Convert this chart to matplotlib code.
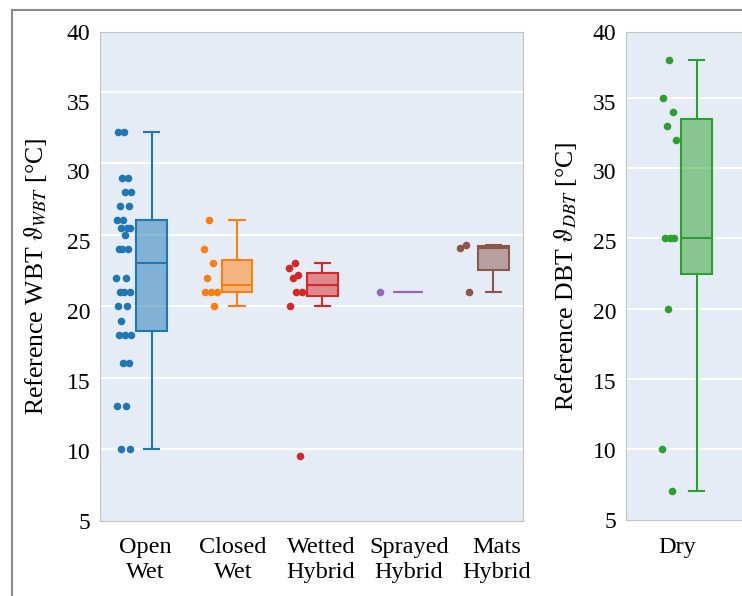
import numpy as np
import matplotlib.pyplot as plt
from matplotlib.colors import to_rgba
from matplotlib.patches import Rectangle

# === DATA ===
wet_names = ['Open\nWet', 'Closed\nWet', 'Wetted\nHybrid', 'Sprayed\nHybrid', 'Mats\nHybrid']
open_wet = [32.2, 32.2, 29, 29, 28, 28, 27, 27, 26, 26, 25.5, 25.5, 25.5, 25, 24, 24, 24,
            22, 22, 21, 21, 21, 20, 20, 19, 18, 18, 18, 16, 16, 13, 13, 10, 10]
closed_wet = [26, 24, 23, 22, 21, 21, 21, 20]
wetted_hybrid = [23.0, 22.7, 22.2, 22.0, 21.0, 21.0, 20.0, 9.5]
sprayed_hybrid = [21.0]
mats_hybrid = [24.3, 24.1, 21.0]

dry_names = ['Dry']
dry = [37.7, 35.0, 34.0, 33.0, 32.0, 25, 25, 25, 20, 10, 7]

tick_labels = ['5', '10', '15', '20', '25', '30', '35', '40']
grid_vals = [10, 15, 20, 25, 30, 35]

wet_colors = ['#1f77b4', '#ff7f0e', '#d62728', '#9467bd', '#8c564b']
dry_color = '#2ca02c'

# === STYLE ===
plt.rcParams['font.family'] = ['Liberation Serif', 'DejaVu Serif']
plt.rcParams['mathtext.fontset'] = 'stix'
bg = '#E5ECF6'
spine_c = '#c4c4c4'


def draw_group(ax, pos, values, color):
    # box to the right, jittered points to the left (plotly-like)
    lw = 1.5
    ax.boxplot([values], positions=[pos + 0.1], widths=0.36, patch_artist=True,
               showfliers=False, manage_ticks=False,
               boxprops=dict(facecolor=to_rgba(color, 0.5), edgecolor=color, linewidth=lw),
               medianprops=dict(color=color, linewidth=lw),
               whiskerprops=dict(color=color, linewidth=lw),
               capprops=dict(color=color, linewidth=lw))
    k = np.arange(len(values))
    off = ((k * 0.618034 + 0.5) % 1 - 0.5) * 0.18
    ax.scatter(pos - 0.224 + off, values, s=30, color=color, linewidths=0, zorder=3)


def style_axis(ax, ylo, yhi):
    ax.set_facecolor(bg)
    ax.set_ylim(ylo, yhi)
    # labels are spread evenly over the axis, gridlines follow the data scale
    ax.set_yticks(np.linspace(ylo, yhi, len(tick_labels)), tick_labels, fontsize=17)
    ax.set_yticks(grid_vals, minor=True)
    ax.grid(which='minor', axis='y', color='white', linewidth=1.4)
    ax.grid(which='major', visible=False)
    ax.tick_params(which='both', length=0)
    ax.tick_params(axis='y', pad=7)
    ax.tick_params(axis='x', pad=12, labelsize=17.5)
    for t in ax.get_xticklabels():
        t.set_linespacing(1.25)
    for s in ax.spines.values():
        s.set_color(spine_c)
        s.set_linewidth(0.8)
    ax.set_axisbelow(True)


fig = plt.figure(figsize=(7.42, 5.96), dpi=100)
ax1 = fig.add_axes([100 / 742, 75.3 / 596, 423 / 742, 489 / 596])
ax2 = fig.add_axes([626 / 742, 76 / 596, 130 / 742, 488 / 596])

# === LEFT: wet / hybrid ===
wet_groups = [open_wet, closed_wet, wetted_hybrid, sprayed_hybrid, mats_hybrid]
for i, (vals, c) in enumerate(zip(wet_groups, wet_colors)):
    draw_group(ax1, i, vals, c)
ax1.set_xlim(-0.505, 4.448)
ax1.set_xticks(np.arange(len(wet_names)) * 1.03 + 0.02, wet_names)
style_axis(ax1, 5, 39.2)
ax1.set_ylabel(r'Reference WBT $\vartheta_{WBT}$ [°C]', fontsize=18.5)
ax1.yaxis.set_label_coords(-0.12, 0.5)

# === RIGHT: dry ===
draw_group(ax2, 0, dry, dry_color)
ax2.set_xlim(-0.728, 0.794)
ax2.set_xticks([-0.13], dry_names)
style_axis(ax2, 4.95, 39.7)
ax2.set_ylabel(r'Reference DBT $\vartheta_{DBT}$ [°C]', fontsize=18.5)
ax2.yaxis.set_label_coords(-0.36, 0.5)

# outer frame (only left and top edges visible)
fig.add_artist(Rectangle((12 / 742, -0.05), 1.2, 586 / 596 + 0.05, transform=fig.transFigure,
                         fill=False, edgecolor='#8a8a8a', linewidth=1.5))

fig.savefig('out.png', dpi=100)
